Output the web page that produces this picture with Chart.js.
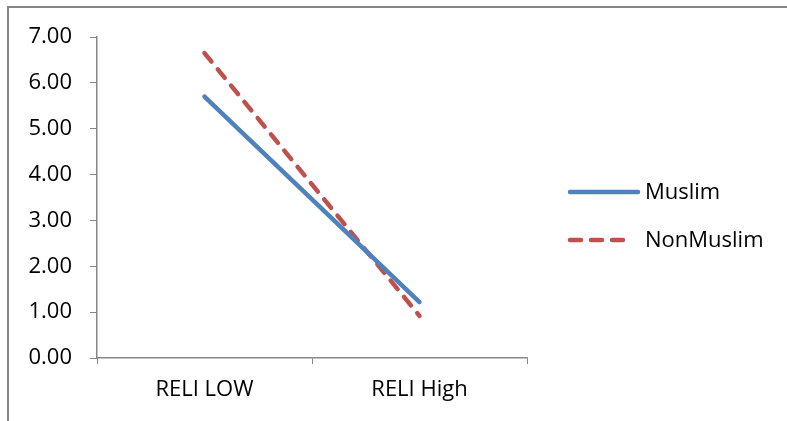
<!DOCTYPE html>
<html>
<head>
<meta charset="utf-8">
<script src="https://cdn.jsdelivr.net/npm/chart.js@4"></script>
<style>
  html, body { margin: 0; padding: 0; background: #fff; }
  #wrap { position: relative; width: 787px; height: 421px; }
  #frame { position: absolute; left: 7px; top: 6px; width: 790px; height: 430px; border: 2px solid #868686; box-sizing: border-box; }
  canvas { position: absolute; left: 0; top: 0; }
</style>
</head>
<body>
<div id="wrap">
  <div id="frame"></div>
  <canvas id="chart" width="787" height="421"></canvas>
</div>
<script>
const categories = ['RELI LOW', 'RELI High'];
const muslim = [5.70, 1.22];
const nonMuslim = [6.65, 0.92];
const yTicks = [0, 1, 2, 3, 4, 5, 6, 7];

const FONT = "'Open Sans', sans-serif";

// legend drawn by hand to sit where the original puts it
const sideLegend = {
    id: 'sideLegend',
    afterDraw(chart) {
        const ctx = chart.ctx;
        const rows = [192, 240];
        chart.data.datasets.forEach((ds, i) => {
            const y = rows[i];
            ctx.save();
            ctx.strokeStyle = ds.borderColor;
            ctx.lineWidth = 4.5;
            ctx.lineCap = 'round';
            ctx.setLineDash(ds.borderDash || []);
            ctx.beginPath();
            ctx.moveTo(570, y);
            ctx.lineTo(ds.borderDash ? 630 : 638, y);
            ctx.stroke();
            ctx.setLineDash([]);
            ctx.fillStyle = '#000';
            ctx.font = '22px ' + FONT;
            ctx.textBaseline = 'middle';
            ctx.fillText(ds.label, 645, y + 1);
            ctx.restore();
        });
    }
};

new Chart(document.getElementById('chart').getContext('2d'), {
    type: 'line',
    data: {
        labels: categories,
        datasets: [{
            label: 'Muslim',
            data: muslim,
            borderColor: '#4F81BD',
            borderWidth: 4.5,
            borderCapStyle: 'round',
            pointRadius: 0,
            tension: 0
        }, {
            label: 'NonMuslim',
            data: nonMuslim,
            borderColor: '#C0504D',
            borderWidth: 4.5,
            borderDash: [11, 10],
            borderCapStyle: 'round',
            pointRadius: 0,
            tension: 0
        }]
    },
    options: {
        responsive: false,
        animation: false,
        layout: { padding: { left: 0, top: 37, right: 260, bottom: 0 } },
        plugins: { legend: { display: false }, tooltip: { enabled: false } },
        scales: {
            x: {
                offset: true,
                grid: { offset: true, drawOnChartArea: false, tickLength: 6, color: '#868686' },
                border: { color: '#868686', width: 1.5 },
                ticks: { color: '#000', font: { family: FONT, size: 22 }, padding: 13 },
                afterFit: s => { s.height = 63; }
            },
            y: {
                min: 0,
                max: 7,
                afterBuildTicks: s => { s.ticks = yTicks.map(v => ({ value: v })); },
                grid: { drawOnChartArea: false, tickLength: 7, color: '#868686' },
                border: { color: '#868686', width: 1.5 },
                ticks: {
                    color: '#000',
                    font: { family: FONT, size: 22 },
                    padding: 18,
                    callback: v => v.toFixed(2)
                },
                afterFit: s => { s.width = 97; }
            }
        }
    },
    plugins: [sideLegend]
});
</script>
</body>
</html>
